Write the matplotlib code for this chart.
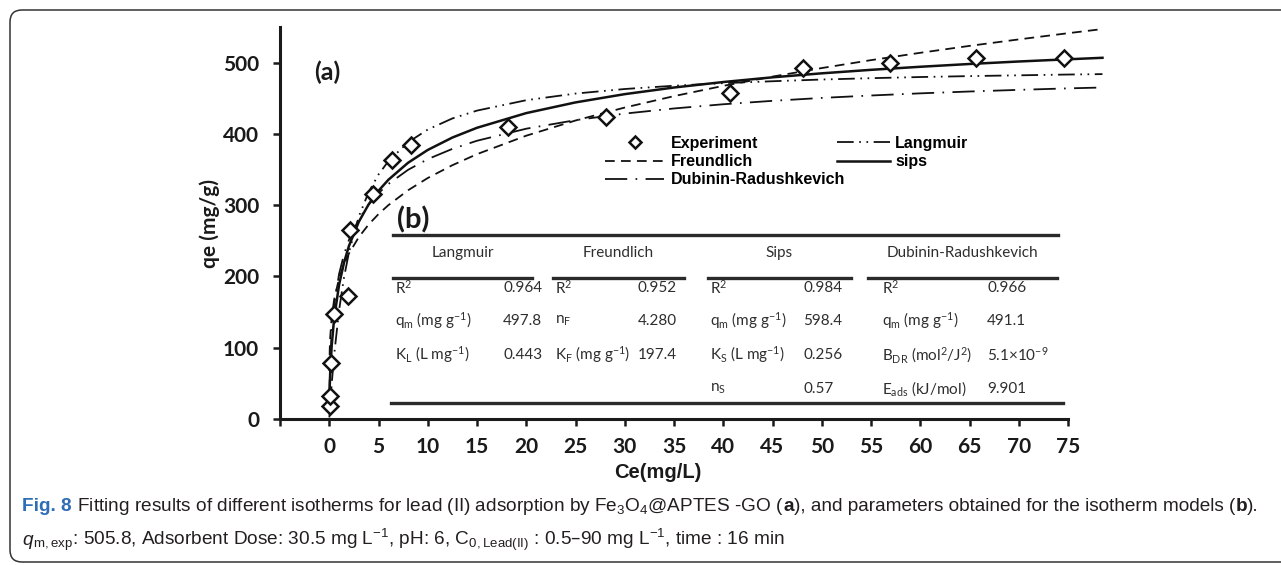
import matplotlib
matplotlib.use('Agg')
import matplotlib.pyplot as plt
from matplotlib.lines import Line2D
from matplotlib.patches import FancyBboxPatch
from matplotlib.transforms import IdentityTransform

plt.rcParams['mathtext.default'] = 'regular'
plt.rcParams['lines.scale_dashes'] = False

W, H = 1281, 565

# experimental isotherm points
ce_exp = [0.1, 0.1, 0.15, 0.5, 1.9, 2.1, 4.4, 6.4, 8.3, 18.1, 28.1, 40.7, 48.1, 56.9, 65.7, 74.6]
qe_exp = [18, 32, 78, 148, 172, 265, 315, 363, 385, 409, 424, 458, 493, 500, 506, 506]

# fitted isotherm curves
ce_fit = [0.01, 0.05, 0.1, 0.25, 0.5, 1, 1.5, 2, 3, 4, 5, 6, 8, 10, 12.5, 15,
          20, 25, 30, 35, 40, 45, 50, 55, 60, 65, 70, 75, 78.5]
q_langmuir = [2.2, 10.8, 21.1, 49.6, 90.3, 152.8, 198.7, 233.8, 284.1, 318.2, 343.0,
              361.7, 388.2, 406.1, 421.7, 432.7, 447.3, 456.6, 463.0, 467.6, 471.2,
              473.9, 476.3, 478.2, 479.8, 481.1, 482.2, 483.3, 483.9]
q_freundlich = [67.3, 98.0, 115.3, 142.8, 167.9, 197.4, 217.0, 232.1, 255.2, 272.9,
                287.5, 300.0, 320.9, 338.1, 356.1, 371.6, 397.5, 418.8, 437.0, 453.0,
                467.4, 480.4, 492.4, 503.5, 513.8, 523.5, 532.6, 541.3, 547.1]
q_sips = [19.3, 46.1, 65.9, 103.3, 141.5, 188.5, 219.5, 242.8, 276.7, 301.2, 320.2,
          335.6, 359.5, 377.5, 394.9, 408.6, 429.2, 444.2, 455.8, 465.1, 472.8, 479.4,
          485.0, 489.9, 494.2, 498.1, 501.6, 504.7, 506.8]
q_dr = [24.1, 58.7, 82.2, 122.5, 160.3, 203.6, 231.1, 251.2, 280.2, 300.8, 316.8,
        329.7, 349.6, 364.6, 379.0, 390.4, 407.3, 419.3, 428.5, 435.7, 441.6, 446.4,
        450.5, 453.9, 456.9, 459.5, 461.8, 463.9, 465.1]

x_ticks = list(range(-5, 80, 5))
y_ticks = [0, 100, 200, 300, 400, 500]

# parameter table (b)
table_titles = ['Langmuir', 'Freundlich', 'Sips', 'Dubinin-Radushkevich']
langmuir_rows = [('R$^2$', '0.964'), ('q$_m$ (mg g$^{-1}$)', '497.8'),
                 ('K$_L$ (L mg$^{-1}$)', '0.443')]
freundlich_rows = [('R$^2$', '0.952'), ('n$_F$', '4.280'),
                   ('K$_F$ (mg g$^{-1}$)', '197.4')]
sips_rows = [('R$^2$', '0.984'), ('q$_m$ (mg g$^{-1}$)', '598.4'),
             ('K$_S$ (L mg$^{-1}$)', '0.256'), ('n$_S$', '0.57')]
dr_rows = [('R$^2$', '0.966'), ('q$_m$ (mg g$^{-1}$)', '491.1'),
           ('B$_{DR}$ (mol$^2$/J$^2$)', '5.1$\\times$10$^{-9}$'),
           ('E$_{ads}$ (kJ/mol)', '9.901')]


def fx(x):
    return x / W


def fy(y):
    return 1 - y / H


fig = plt.figure(figsize=(W / 100, H / 100), dpi=100)
fig.patch.set_facecolor('white')

# rounded frame around figure + caption
frame = FancyBboxPatch((10, 3), 1300, H - 13, boxstyle='round,pad=0,rounding_size=12',
                       transform=IdentityTransform(), fill=False, edgecolor='#333333',
                       linewidth=1.1, figure=fig)
fig.patches.append(frame)

ax = fig.add_axes([fx(280), fy(419), fx(1068) - fx(280), fy(27) - fy(419)])
ax.set_xlim(-5, 75)
ax.set_ylim(0, 550)

ax.plot(ce_fit, q_langmuir, color='#111111', lw=1.3, dashes=(12, 4, 1.2, 4, 1.2, 4),
        clip_on=False, label='Langmuir')
ax.plot(ce_fit, q_freundlich, color='#111111', lw=1.3, dashes=(7, 4.5),
        clip_on=False, label='Freundlich')
ax.plot(ce_fit, q_sips, color='#111111', lw=1.8, clip_on=False, label='sips')
ax.plot(ce_fit, q_dr, color='#111111', lw=1.3, dashes=(16, 6, 1.2, 6),
        clip_on=False, label='Dubinin-Radushkevich')
ax.plot(ce_exp, qe_exp, linestyle='none', marker='D', ms=8, mfc='white', mec='#111111',
        mew=1.8, zorder=5, clip_on=False, label='Experiment')

for side in ['top', 'right']:
    ax.spines[side].set_visible(False)
for side in ['left', 'bottom']:
    ax.spines[side].set_linewidth(2.2)
    ax.spines[side].set_color('#1a1a1a')

ax.set_xticks(x_ticks)
ax.set_xticklabels(['' if t < 0 else str(t) for t in x_ticks])
ax.set_yticks(y_ticks)
ax.tick_params(axis='both', direction='out', length=5, width=1.8, color='#1a1a1a')
ax.tick_params(axis='y', pad=10)
ax.tick_params(axis='x', pad=8)
for lab in ax.get_xticklabels() + ax.get_yticklabels():
    lab.set_fontfamily('Lato')
    lab.set_fontweight('bold')
    lab.set_fontsize(15)
    lab.set_color('#1a1a1a')

fig.text(fx(210), fy(223), 'qe (mg/g)', rotation=90, ha='center', va='center',
         fontfamily='Lato', fontweight='bold', fontsize=15, color='#1a1a1a')
fig.text(fx(658), fy(472), 'Ce(mg/L)', ha='center', va='center',
         fontfamily='Liberation Sans', fontweight='bold', fontsize=14.5, color='#1a1a1a')

fig.text(fx(314), fy(72), '(a)', ha='left', va='center', fontfamily='Lato',
         fontweight='bold', fontsize=18, color='#1a1a1a')

# legend, split into two blocks
h = {l.get_label(): l for l in ax.get_lines()}
leg_kw = dict(frameon=False, borderpad=0, borderaxespad=0, labelspacing=0.2,
              prop={'family': 'Liberation Sans', 'weight': 'bold', 'size': 11.5},
              bbox_transform=fig.transFigure, loc='upper left', markerscale=0.75)
leg1 = ax.legend([h['Experiment'], h['Freundlich'], h['Dubinin-Radushkevich']],
                 ['Experiment', 'Freundlich', 'Dubinin-Radushkevich'],
                 bbox_to_anchor=(fx(605), fy(136)), handlelength=3.7,
                 handletextpad=0.45, **leg_kw)
ax.add_artist(leg1)
ax.legend([h['Langmuir'], h['sips']], ['Langmuir', 'sips'],
          bbox_to_anchor=(fx(837), fy(136)), handlelength=3.3,
          handletextpad=0.35, **leg_kw)

# table (b)
fig.text(fx(397), fy(220), '(b)', ha='left', va='center', fontfamily='Lato',
         fontweight='bold', fontsize=21, color='#1a1a1a')


def hline(x0, x1, y, lw=2.4):
    fig.add_artist(Line2D([fx(x0), fx(x1)], [fy(y), fy(y)], color='#2a2a2a',
                          lw=lw, transform=fig.transFigure))


hline(393, 1058, 235)
hline(391, 1063, 403)
groups = [(393, 532, 395, 503, langmuir_rows),
          (553, 684, 555, 638, freundlich_rows),
          (708, 851, 710, 803, sips_rows),
          (868, 1057, 882, 987, dr_rows)]
row_y = [288, 321, 355, 389]
tkw = dict(fontfamily='Lato', fontsize=11, color='#2e2e2e', va='center')
for title, (x0, x1, xl, xv, rows) in zip(table_titles, groups):
    hline(x0, x1, 278)
    fig.text(fx((x0 + x1) / 2), fy(253), title, ha='center', **tkw)
    for yy, (name, val) in zip(row_y, rows):
        fig.text(fx(xl), fy(yy), name, ha='left', **tkw)
        fig.text(fx(xv), fy(yy), val, ha='left', **tkw)

# caption
cap_font = ['Liberation Sans Narrow', 'Liberation Sans']
renderer = fig.canvas.get_renderer()


def caption_line(pieces, x, y, size):
    for txt, weight, style, color in pieces:
        t = fig.text(fx(x), fy(y), txt, ha='left', va='baseline', fontfamily=cap_font,
                     fontsize=size, fontweight=weight, fontstyle=style, color=color)
        bb = t.get_window_extent(renderer=renderer)
        x += bb.width


dark = '#231f20'
blue = '#2f6db5'
caption_line([('Fig. 8', 'bold', 'normal', blue),
              (' Fitting results of different isotherms for lead (II) adsorption by '
               'Fe$_3$O$_4$@APTES -GO (', 'normal', 'normal', dark),
              ('a', 'bold', 'normal', dark),
              ('), and parameters obtained for the isotherm models (', 'normal', 'normal', dark),
              ('b', 'bold', 'normal', dark),
              (').', 'normal', 'normal', dark)], 22, 511, 13.7)
caption_line([('q', 'normal', 'italic', dark),
              ('$_{m,exp}$: 505.8, Adsorbent Dose: 30.5 mg L$^{-1}$, pH: 6, '
               'C$_{0,Lead(II)}$ : 0.5\u201390 mg L$^{-1}$, time : 16 min',
               'normal', 'normal', dark)], 22, 545, 13.7)

fig.savefig('out.png', dpi=100, facecolor='white')
